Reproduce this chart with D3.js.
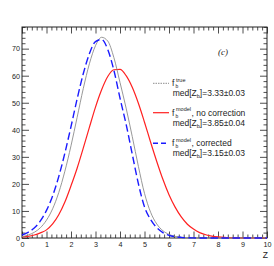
<!DOCTYPE html>
<html>
<head>
<meta charset="utf-8">
<script src="https://cdn.jsdelivr.net/npm/d3@7"></script>
<style>
  html, body { margin: 0; padding: 0; background: #fff; }
  svg { display: block; }
  text { font-family: "Liberation Sans", Arial, sans-serif; fill: #222; }
</style>
</head>
<body>
<svg id="chart" width="274" height="266"></svg>
<script>
// ---- data ----
const z = [0, 0.25, 0.5, 0.75, 1, 1.25, 1.5, 1.75, 2, 2.25, 2.5, 2.75, 3, 3.25, 3.5, 3.75, 4, 4.25, 4.5, 4.75,
           5, 5.25, 5.5, 5.75, 6, 6.25, 6.5, 6.75, 7, 7.25, 7.5, 7.75, 8, 8.25, 8.5, 8.75, 9, 9.25, 9.5, 9.75, 10];
const fTrue = [0.5, 1.1, 2.1, 3.8, 6.6, 10.8, 16.8, 24.7, 34.1, 44.6, 55.2, 64.4, 71.1, 74.2, 72.8, 66.7, 57.5, 48, 37.5, 26.5,
               16.5, 9.5, 5.2, 2.7, 1.35, 0.6, 0.25, 0.1, 0.05, 0, 0, 0, 0, 0, 0, 0, 0, 0, 0, 0, 0];
const fNoCorr = [0.4, 0.6, 1.1, 1.9, 3.0, 5.2, 8.6, 13.3, 19.3, 25.8, 33.2, 40.9, 48.4, 54.8, 59.7, 62.2, 62.3, 60.0, 55.7, 49.8,
                 42.8, 35.4, 28.3, 21.7, 16.0, 11.4, 7.8, 5.1, 3.3, 2.0, 1.2, 0.7, 0.4, 0.2, 0.1, 0.05, 0, 0, 0, 0, 0];
const fCorr = [1.1, 2.1, 3.7, 6.3, 10.2, 15.6, 22.7, 31.4, 41.2, 51.4, 60.7, 68.1, 72.6, 73.4, 69.7, 62.0, 51.7, 42, 31, 20.1,
               11.5, 6.8, 3.8, 2.0, 1.0, 0.5, 0.25, 0.1, 0.05, 0, 0, 0, 0, 0, 0, 0, 0, 0, 0, 0, 0];
const xTicks = [0, 1, 2, 3, 4, 5, 6, 7, 8, 9, 10];
const yTicks = [0, 10, 20, 30, 40, 50, 60, 70];
const legendSup = ["true", "model", "model"];
const legendRest = ["", ", no correction", ", corrected"];
const legendMed = ["]=3.33\u00b10.03", "]=3.85\u00b10.04", "]=3.15\u00b10.03"];

// ---- layout ----
const L = 22, T = 27, R = 267, B = 238;
const svg = d3.select("#chart");
const x = d3.scaleLinear().domain([0, 10]).range([L, R]);
const y = d3.scaleLinear().domain([0, 78]).range([B, T]);

const xMinor = d3.range(0, 10.001, 0.2).filter(v => Math.abs(v - Math.round(v)) > 1e-6);
const yMinor = d3.range(0, 78.001, 2).filter(v => v % 10 !== 0);

function styleAxis(g) {
  g.select(".domain").remove();
  g.selectAll("line").attr("stroke", "#222").attr("stroke-width", 0.8);
  g.selectAll("text").style("font-size", "7.2px").attr("fill", "#222");
}

// bottom
svg.append("g").attr("transform", `translate(0,${B})`)
  .call(d3.axisBottom(x).tickValues(xTicks).tickSize(-6.5).tickPadding(3.5).tickFormat(d3.format("d")))
  .call(styleAxis);
svg.append("g").attr("transform", `translate(0,${B})`)
  .call(d3.axisBottom(x).tickValues(xMinor).tickSize(-3.5).tickFormat(""))
  .call(styleAxis);
// top
svg.append("g").attr("transform", `translate(0,${T})`)
  .call(d3.axisTop(x).tickValues(xTicks).tickSize(-6.5).tickFormat(""))
  .call(styleAxis);
svg.append("g").attr("transform", `translate(0,${T})`)
  .call(d3.axisTop(x).tickValues(xMinor).tickSize(-3.5).tickFormat(""))
  .call(styleAxis);
// left
svg.append("g").attr("transform", `translate(${L},0)`)
  .call(d3.axisLeft(y).tickValues(yTicks).tickSize(-7).tickPadding(2).tickFormat(d3.format("d")))
  .call(styleAxis);
svg.append("g").attr("transform", `translate(${L},0)`)
  .call(d3.axisLeft(y).tickValues(yMinor).tickSize(-3.5).tickFormat(""))
  .call(styleAxis);
// right
svg.append("g").attr("transform", `translate(${R},0)`)
  .call(d3.axisRight(y).tickValues(yTicks).tickSize(-7).tickFormat(""))
  .call(styleAxis);
svg.append("g").attr("transform", `translate(${R},0)`)
  .call(d3.axisRight(y).tickValues(yMinor).tickSize(-3.5).tickFormat(""))
  .call(styleAxis);

// frame
svg.append("rect").attr("x", L).attr("y", T).attr("width", R - L).attr("height", B - T)
  .attr("fill", "none").attr("stroke", "#222").attr("stroke-width", 1);

// axis title
svg.append("text").attr("x", 268).attr("y", 257.5).attr("text-anchor", "end")
  .style("font-size", "8.5px").text("Z");

// curves
const series = [
  { vals: fNoCorr, color: "#ff2020", width: 1.2, dash: null },
  { vals: fTrue, color: "#8c8c8c", width: 0.9, dash: null },
  { vals: fCorr, color: "#1a1aff", width: 1.4, dash: "7.5,3.5" }
];
const line = d3.line().x(d => x(d[0])).y(d => y(d[1])).curve(d3.curveMonotoneX);
series.forEach(s => {
  svg.append("path").datum(z.map((v, i) => [v, s.vals[i]]))
    .attr("d", line).attr("fill", "none")
    .attr("stroke", s.color).attr("stroke-width", s.width)
    .attr("stroke-dasharray", s.dash);
});

// (c) label
svg.append("text").attr("x", 218).attr("y", 55)
  .style("font-family", "'Liberation Serif', 'Times New Roman', serif")
  .style("font-style", "italic").style("font-size", "9px").text("(c)");

// legend
const legY = [83.3, 112.7, 143.3];
const legStyle = [
  { color: "#8c8c8c", width: 1, dash: "1.5,1" },
  { color: "#ff2020", width: 1.2, dash: null },
  { color: "#1a1aff", width: 1.4, dash: "5,3" }
];
legY.forEach((ly, i) => {
  const st = legStyle[i];
  svg.append("line").attr("x1", 153).attr("x2", 169).attr("y1", ly).attr("y2", ly)
    .attr("stroke", st.color).attr("stroke-width", st.width).attr("stroke-dasharray", st.dash);
  svg.append("text").attr("x", 172).attr("y", ly + 3).style("font-size", "8.5px").text("f");
  const sup = svg.append("text").attr("x", 176).attr("y", ly - 1.5).style("font-size", "5.5px").text(legendSup[i]);
  svg.append("text").attr("x", 175.5).attr("y", ly + 4.8).style("font-size", "5px").text("b");
  if (legendRest[i]) {
    const w = sup.node().getComputedTextLength();
    svg.append("text").attr("x", 176 + w + 0.5).attr("y", ly + 3).style("font-size", "8.5px").text(legendRest[i]);
  }
  const med = svg.append("text").attr("x", 172.7).attr("y", ly + 13).style("font-size", "8.5px");
  med.append("tspan").text("med[Z");
  med.append("tspan").attr("dy", 2).style("font-size", "5.5px").text("b");
  med.append("tspan").attr("dy", -2).text(legendMed[i]);
});
</script>
</body>
</html>
